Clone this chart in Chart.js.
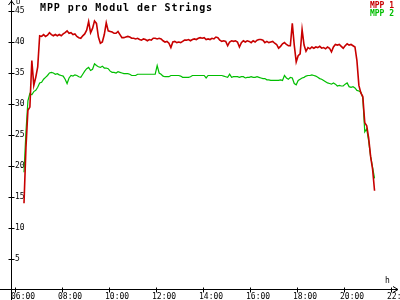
<!DOCTYPE html>
<html lang="de">
<head>
<meta charset="UTF-8">
<title>MPP pro Modul der Strings</title>
<style>
  body { margin: 0; background: #fff; }
  #wrap { position: relative; width: 400px; height: 300px; overflow: hidden; }
  canvas { display: block; }
  .txt { position: absolute; font-family: 'DejaVu Sans Mono', monospace; line-height: 1; white-space: nowrap; }
  #title { left: 40px; top: 3px; font-size: 10px; font-weight: bold; letter-spacing: 0.9px; color: #000; }
  #leg1 { right: 6px; top: 2px; font-size: 8px; font-weight: bold; color: #c80000; }
  #leg2 { right: 6px; top: 10px; font-size: 8px; font-weight: bold; color: #00be00; }
  #unitY { left: 16px; top: -1px; font-size: 7px; color: #000; }
  #unitX { left: 385px; top: 277px; font-size: 8px; color: #000; }
</style>
</head>
<body>
<div id="wrap">
  <canvas id="chart" width="400" height="300"></canvas>
  <div class="txt" id="title">MPP pro Modul der Strings</div>
  <div class="txt" id="leg1">MPP 1</div>
  <div class="txt" id="leg2">MPP 2</div>
  <div class="txt" id="unitY">U</div>
  <div class="txt" id="unitX">h</div>
</div>

<script src="https://cdn.jsdelivr.net/npm/chart.js"></script>
<script>
  // samples every 5 minutes, first one at 06:23
  const startMinute = 6 * 60 + 23;
  const stepMinutes = 5;

  const mpp1 = [
    14.0, 23.0, 29.0, 29.5, 37.0, 33.0, 34.3, 36.0, 41.0, 40.9,
    41.2, 40.9, 41.1, 41.5, 41.2, 41.0, 41.2, 41.0, 41.2, 41.0,
    41.3, 41.5, 41.8, 41.4, 41.5, 41.2, 41.3, 40.9, 40.7, 40.6,
    41.0, 41.3, 41.9, 43.3, 41.5, 42.2, 43.4, 43.0, 40.8, 39.8,
    40.0, 41.2, 43.1, 41.8, 41.7, 41.6, 41.4, 41.4, 41.7, 41.2,
    40.7, 40.7, 40.8, 40.9, 40.8, 40.6, 40.6, 40.5, 40.6, 40.4,
    40.3, 40.5, 40.4, 40.2, 40.4, 40.3, 40.6, 40.6, 40.5, 40.6,
    40.5, 40.2, 40.0, 40.1, 39.8, 39.1, 40.0, 40.1, 39.9, 40.0,
    39.9, 40.1, 40.3, 40.3, 40.4, 40.2, 40.4, 40.5, 40.4, 40.6,
    40.7, 40.6, 40.7, 40.4, 40.5, 40.4, 40.6, 40.5, 40.8, 40.7,
    40.3, 40.1, 40.2, 40.1, 39.4, 40.0, 40.2, 40.1, 40.2, 40.0,
    39.2, 39.9, 40.2, 40.0, 40.2, 40.1, 39.9, 40.2, 40.0, 40.3,
    40.4, 40.4, 40.3, 39.9, 40.1, 39.9, 40.0, 40.1, 39.8, 39.6,
    39.0, 39.3, 39.7, 39.9, 39.6, 39.4, 39.4, 43.0, 39.5, 36.8,
    37.8, 38.1, 42.0, 39.5, 38.5, 39.1, 38.9, 39.2, 39.0, 39.2,
    39.1, 39.3, 39.0, 39.1, 38.9, 39.2, 39.0, 38.4, 39.2, 39.6,
    39.5, 39.6, 39.3, 39.0, 39.4, 39.7, 39.5, 39.6, 39.4, 39.2,
    37.0, 33.0, 31.8, 31.2, 27.0, 26.5, 24.5, 21.5, 19.5, 16.0
  ];

  const mpp2 = [
    19.0, 25.5, 30.5, 31.7, 31.5, 32.0, 32.2, 32.7, 33.4, 33.5,
    34.0, 34.3, 34.6, 35.0, 35.1, 35.0, 34.8, 34.9, 34.7, 34.6,
    34.5, 34.0, 33.3, 34.2, 34.6, 34.5, 34.7, 34.6, 34.4, 34.3,
    34.8, 35.3, 35.7, 35.9, 35.4, 35.6, 36.5, 36.2, 36.0, 35.9,
    36.1, 35.8, 35.8, 35.7, 35.3, 35.1, 35.1, 35.0, 35.2, 35.1,
    35.0, 34.9, 34.9, 34.9, 34.8, 34.6, 34.6, 34.6, 34.8, 34.8,
    34.8, 34.8, 34.8, 34.8, 34.8, 34.8, 34.8, 34.8, 36.2, 35.0,
    34.8, 34.5, 34.4, 34.4, 34.4, 34.6, 34.6, 34.6, 34.6, 34.6,
    34.5, 34.3, 34.3, 34.3, 34.3, 34.4, 34.6, 34.6, 34.6, 34.6,
    34.6, 34.6, 34.6, 34.2, 34.6, 34.6, 34.6, 34.6, 34.6, 34.6,
    34.6, 34.6, 34.5, 34.4, 34.3, 34.8, 34.3, 34.4, 34.4, 34.4,
    34.3, 34.4, 34.4, 34.2, 34.3, 34.3, 34.4, 34.3, 34.3, 34.4,
    34.3, 34.2, 34.1, 34.1, 33.9, 33.9, 33.8, 33.8, 33.8, 33.8,
    33.8, 33.9, 33.8, 34.6, 34.2, 34.0, 34.3, 34.2, 33.3, 33.1,
    33.8, 34.0, 34.2, 34.3, 34.5, 34.6, 34.6, 34.7, 34.6, 34.5,
    34.3, 34.1, 34.0, 33.8, 33.6, 33.4, 33.3, 33.2, 33.4, 33.2,
    32.9, 33.0, 32.9, 32.9, 33.2, 33.4, 32.8, 32.7, 32.8, 32.6,
    32.2, 32.1, 31.9, 31.0, 25.5, 26.0, 24.0, 21.5, 19.8, 18.0
  ];

  const xMin = 5.83;   // axis starts a little before 06:00
  const xMax = 22;
  const hourTicks = [6, 8, 10, 12, 14, 16, 18, 20, 22];
  const yMax = 45;
  const yStep = 5;

  const hours = mpp1.map((_, i) => (startMinute + i * stepMinutes) / 60);
  const hourLabel = h => String(h).padStart(2, '0') + ':00';

  const tickFont = { family: 'DejaVu Sans Mono', size: 8 };

  // axis lines with arrows, ticks crossing the axes
  const axesDeco = {
    id: 'axesDeco',
    afterDraw(chart) {
      const { ctx, scales: { x, y } } = chart;
      const ax = Math.round(x.left) + 0.5;
      const ay = Math.round(y.bottom) - 0.5;
      const end = chart.width - 2;
      ctx.save();
      ctx.strokeStyle = '#000';
      ctx.lineWidth = 1;
      ctx.beginPath();
      ctx.moveTo(ax, 0); ctx.lineTo(ax, chart.height);
      ctx.moveTo(0, ay); ctx.lineTo(end, ay);
      ctx.moveTo(ax - 3, 5); ctx.lineTo(ax, 1); ctx.lineTo(ax + 3, 5);
      ctx.moveTo(end - 5, ay - 3); ctx.lineTo(end, ay); ctx.lineTo(end - 5, ay + 3);
      y.ticks.forEach(t => {
        if (t.value === 0) return;
        const py = Math.round(y.getPixelForValue(t.value)) + 0.5;
        ctx.moveTo(ax - 3, py); ctx.lineTo(ax + 3, py);
      });
      x.ticks.forEach(t => {
        const px = Math.round(x.getPixelForValue(t.value)) + 0.5;
        ctx.moveTo(px, ay - 2); ctx.lineTo(px, ay + 3);
      });
      ctx.stroke();
      ctx.restore();
    }
  };

  new Chart(document.getElementById('chart'), {
    type: 'line',
    data: {
      datasets: [
        {
          label: 'MPP 1',
          data: hours.map((h, i) => ({ x: h, y: mpp1[i] })),
          borderColor: '#c80000',
          borderWidth: 1.6,
          pointRadius: 0,
          tension: 0
        },
        {
          label: 'MPP 2',
          data: hours.map((h, i) => ({ x: h, y: mpp2[i] })),
          borderColor: '#00be00',
          borderWidth: 1.2,
          pointRadius: 0,
          tension: 0
        }
      ]
    },
    options: {
      responsive: false,
      animation: false,
      devicePixelRatio: 1,
      layout: { padding: { top: 11, right: 9, bottom: 0, left: 0 } },
      plugins: {
        legend: { display: false },
        title: { display: false },
        tooltip: { enabled: false }
      },
      scales: {
        x: {
          type: 'linear',
          min: xMin,
          max: xMax,
          grid: { display: false, drawTicks: false },
          border: { display: false },
          ticks: {
            autoSkip: false,
            maxRotation: 0,
            align: 'start',
            labelOffset: -4,
            padding: 2,
            color: '#000',
            font: tickFont,
            callback: v => hourLabel(v)
          },
          afterBuildTicks: s => {
            s.ticks = hourTicks.map(v => ({ value: v }));
          },
          afterFit: s => {
            s.height = 10;
            s.paddingLeft = 0;
            s.paddingRight = 0;
          }
        },
        y: {
          min: 0,
          max: yMax,
          grid: { display: false, drawTicks: false },
          border: { display: false },
          ticks: {
            stepSize: yStep,
            mirror: true,
            padding: 4,
            color: '#000',
            font: tickFont,
            callback: v => (v === 0 ? '' : v)
          },
          afterFit: s => {
            s.width = 11;
            s.paddingTop = 0;
            s.paddingBottom = 0;
          }
        }
      }
    },
    plugins: [axesDeco]
  });
</script>
</body>
</html>
